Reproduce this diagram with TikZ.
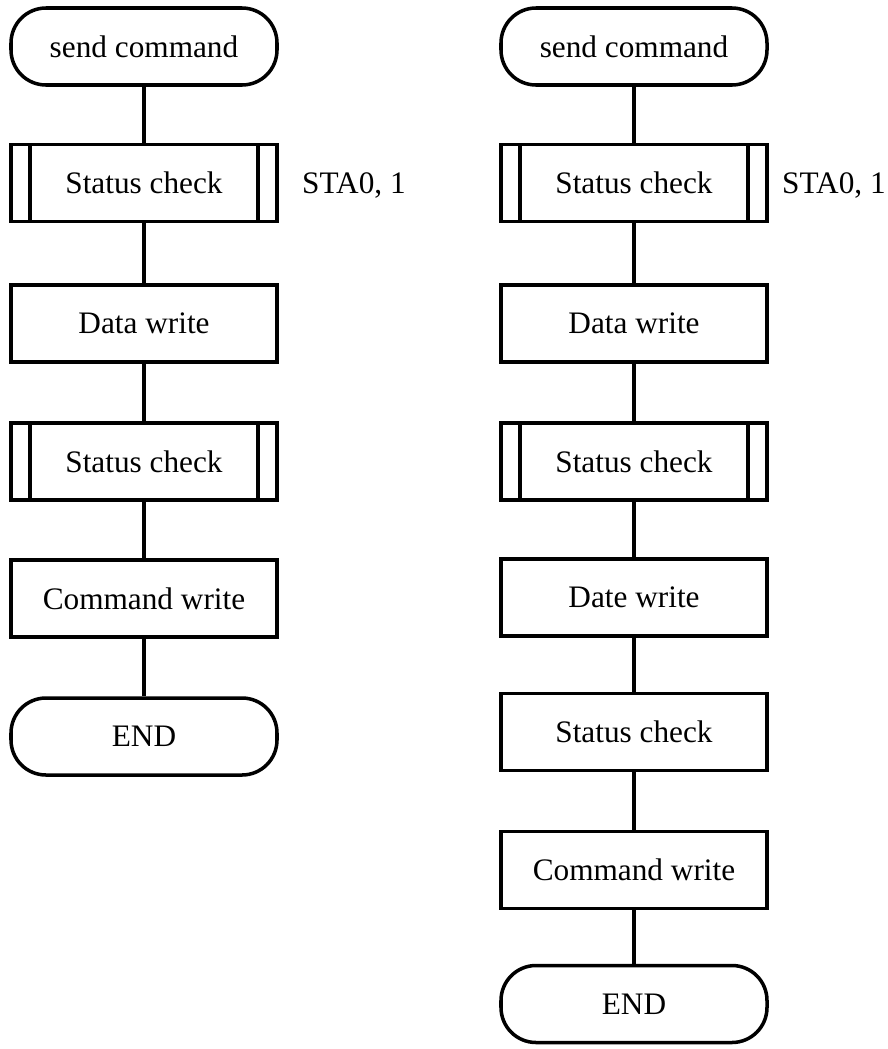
\documentclass[tikz,border=0pt]{standalone}
\usepackage{fontspec}
\setmainfont{Liberation Serif}

\begin{document}
\begin{tikzpicture}[
  every node/.style={font=\fontsize{17.8}{21}\selectfont},
  flowline/.style={line width=2pt},
  terminal/.style={draw,line width=2pt,rounded corners=0.7cm,minimum width=5.32cm,minimum height=1.54cm},
  process/.style={draw,line width=2pt,minimum width=5.32cm,minimum height=1.54cm},
  subprocess/.style={process,path picture={
    \draw[line width=2pt] ([xshift=0.38cm]path picture bounding box.north west) -- ([xshift=0.38cm]path picture bounding box.south west);
    \draw[line width=2pt] ([xshift=-0.38cm]path picture bounding box.north east) -- ([xshift=-0.38cm]path picture bounding box.south east);}}
]
  \useasboundingbox (0,0) rectangle (17.76,-20.98);
  % Left flow
  \node at(2.88,-0.93)[terminal](lsend){send command};
  \node at(2.88,-3.66)[subprocess](lsta){Status check};
  \node at(5.92,-3.70)[anchor=west](lnote){STA0, 1};
  \node at(2.88,-6.47)[process](ldata){Data write};
  \node at(2.88,-9.23)[subprocess](lstb){Status check};
  \node at(2.88,-11.97)[process](lcmd){Command write};
  \node at(2.88,-14.73)[terminal](lend){END};
  % Right flow
  \node at(12.68,-0.93)[terminal](rsend){send command};
  \node at(12.68,-3.66)[subprocess](rsta){Status check};
  \node at(15.52,-3.70)[anchor=west](rnote){STA0, 1};
  \node at(12.68,-6.47)[process](rdata){Data write};
  \node at(12.68,-9.23)[subprocess](rstb){Status check};
  \node at(12.68,-11.95)[process](rdate){Date write};
  \node at(12.68,-14.64)[process](rstc){Status check};
  \node at(12.68,-17.40)[process](rcmd){Command write};
  \node at(12.68,-20.08)[terminal](rend){END};
  % Connectors
  \draw[flowline] (lsend) -- (lsta);
  \draw[flowline] (lsta) -- (ldata);
  \draw[flowline] (ldata) -- (lstb);
  \draw[flowline] (lstb) -- (lcmd);
  \draw[flowline] (lcmd) -- (lend);
  \draw[flowline] (rsend) -- (rsta);
  \draw[flowline] (rsta) -- (rdata);
  \draw[flowline] (rdata) -- (rstb);
  \draw[flowline] (rstb) -- (rdate);
  \draw[flowline] (rdate) -- (rstc);
  \draw[flowline] (rstc) -- (rcmd);
  \draw[flowline] (rcmd) -- (rend);
\end{tikzpicture}
\end{document}
